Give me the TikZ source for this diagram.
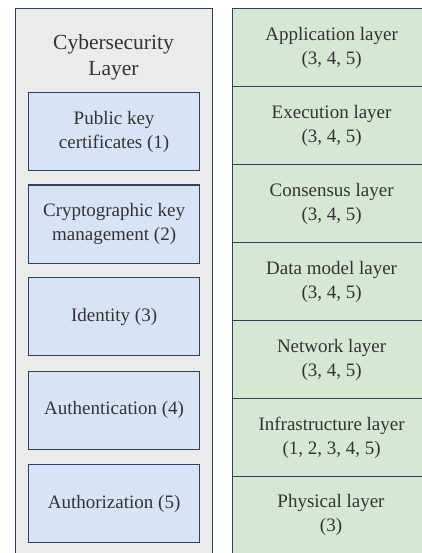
\documentclass[tikz,border=0pt]{standalone}
\usepackage{fontspec}
\setmainfont{Liberation Serif}
\newfontfamily\tnr{Liberation Serif}
\definecolor{edge}{HTML}{2A4266}
\definecolor{grayfill}{HTML}{EBEBEB}
\definecolor{bluefill}{HTML}{D6E4F6}
\definecolor{greenfill}{HTML}{D5E8D4}
\definecolor{txt}{HTML}{333333}
\begin{document}
\begin{tikzpicture}[x=1pt,y=-1pt,
  panel/.style={draw=edge,line width=1.2pt,fill=grayfill,rectangle,inner sep=0pt,anchor=north west},
  secbox/.style={draw=edge,line width=1.2pt,fill=bluefill,rectangle,inner sep=0pt,anchor=north west,
    minimum width=171pt,minimum height=78pt,align=center,text=txt,font=\tnr\fontsize{19}{24}\selectfont},
  layerbox/.style={draw=edge,line width=1.2pt,fill=greenfill,rectangle,inner sep=0pt,anchor=north west,
    minimum width=198pt,minimum height=78pt,align=center,text=txt,font=\tnr\fontsize{19}{24}\selectfont},
  titletext/.style={align=center,text=txt,font=\tnr\fontsize{21.5}{26}\selectfont},
  phystext/.style={align=center,text=txt,font=\tnr\fontsize{19}{24}\selectfont}]
\useasboundingbox (0,0) rectangle (422,553);
\clip (0,0) rectangle (422,553);
\fill[white] (0,0) rectangle (422,553);
% left panel
\node[panel,minimum width=197pt,minimum height=580pt] (cyber) at (15,8) {};
\node[titletext] (title) at (113.5,57) {Cybersecurity\\Layer};
\node[secbox] (pkc) at (28,92) {Public key\\certificates (1)};
\node[secbox] (ckm) at (28,184.5) {Cryptographic key\\management (2)};
\node[secbox] (idn) at (28,277) {Identity (3)};
\node[secbox] (aun) at (28,370.5) {Authentication (4)};
\node[secbox] (aur) at (28,464) {Authorization (5)};
% right stack
\node[layerbox] (app) at (232,8) {Application layer\\(3, 4, 5)};
\node[layerbox] (exe) at (232,86) {Execution layer\\(3, 4, 5)};
\node[layerbox] (con) at (232,164) {Consensus layer\\(3, 4, 5)};
\node[layerbox] (dat) at (232,242) {Data model layer\\(3, 4, 5)};
\node[layerbox] (net) at (232,320) {Network layer\\(3, 4, 5)};
\node[layerbox] (inf) at (232,398) {Infrastructure layer\\(1, 2, 3, 4, 5)};
\node[layerbox,minimum height=100pt] (phy) at (232,476) {};
\node[phystext] (phytext) at (331,515) {Physical layer\\(3)};
\end{tikzpicture}
\end{document}
